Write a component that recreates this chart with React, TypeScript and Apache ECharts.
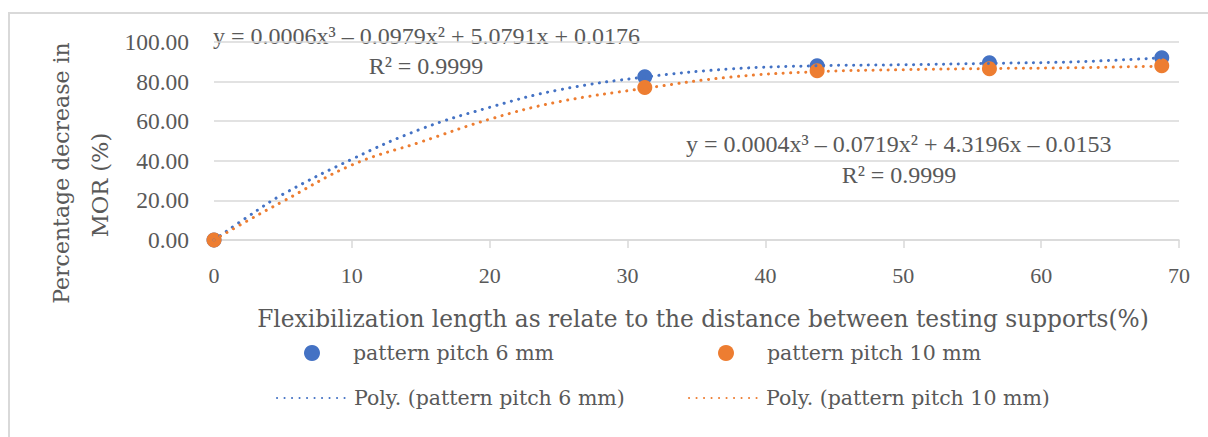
import React, { useEffect, useRef } from "react";
import * as echarts from "echarts";

const SERIF = "'Liberation Serif', serif";
const WIDE = "'DejaVu Serif', serif";
const TEXT = "#595959";
const BLUE = "#4472C4";
const ORANGE = "#ED7D31";

const xTicks = [0, 10, 20, 30, 40, 50, 60, 70];
const pitch6: [number, number][] = [[0, 0], [31.25, 82.5], [43.75, 88], [56.25, 89.5], [68.75, 92]];
const pitch10: [number, number][] = [[0, 0], [31.25, 77], [43.75, 85.5], [56.25, 86.5], [68.75, 88]];
// trendline points
const trendX = [0, 2.5, 5, 10, 15, 20, 25, 31.25, 37.5, 43.75, 50, 56.25, 62.5, 68.75];
const trend6 = [0, 12, 23.1, 40.8, 56, 67, 75.8, 82.3, 86.4, 88, 88.5, 89.2, 90, 92];
const trend10 = [0, 10, 19.5, 37.9, 49.5, 61, 69.8, 76.6, 82.3, 85, 86, 86.6, 87, 87.8];

const eq6 = "y = 0.0006x³ – 0.0979x² + 5.0791x + 0.0176";
const eq10 = "y = 0.0004x³ – 0.0719x² + 4.3196x – 0.0153";
const r2 = "R² = 0.9999";
const xTitle = "Flexibilization length as relate to the distance between testing supports(%)";
const yTitle1 = "Percentage decrease in";
const yTitle2 = "MOR (%)";

export default function App() {
  const ref = useRef<HTMLDivElement>(null);
  useEffect(() => {
    const chart = echarts.init(ref.current!, null, { renderer: "svg" });
    const dotted = (c: string) => ({ color: c, width: 3, type: [0.1, 7.4] as any, cap: "round" as const });
    const txt = { fontFamily: WIDE, fontSize: 20.5, color: TEXT, lineHeight: 24 };
    const legendBase = {
      orient: "horizontal" as const,
      padding: 0,
      selectedMode: false,
    };
    const dotLegend = { ...legendBase, itemWidth: 16, itemHeight: 16, top: 341, textStyle: { ...txt, padding: [0, 0, 0, 28] } };
    const lineLegend = { ...legendBase, itemWidth: 72, itemHeight: 4, top: 386, itemStyle: { opacity: 0 }, textStyle: txt };
    chart.setOption({
      animation: false,
      grid: { left: 214, right: 29, top: 42, bottom: 197 },
      xAxis: {
        type: "value",
        min: xTicks[0],
        max: xTicks[xTicks.length - 1],
        interval: 10,
        axisLine: { show: true, lineStyle: { color: "#d9d9d9", width: 1.5 } },
        axisTick: { show: true, length: 8, lineStyle: { color: "#d9d9d9", width: 1.5 } },
        axisLabel: { fontFamily: SERIF, fontSize: 22, color: TEXT, margin: 24 },
        splitLine: { show: false },
      },
      yAxis: {
        type: "value",
        min: 0,
        max: 100,
        interval: 20,
        axisLine: { show: false },
        axisTick: { show: false },
        axisLabel: { fontFamily: SERIF, fontSize: 23.5, color: TEXT, margin: 25, formatter: (v: number) => v.toFixed(2) },
        splitLine: { lineStyle: { color: "#d9d9d9", width: 1.5 } },
      },
      legend: [
        { ...dotLegend, left: 304, data: [{ name: "pattern pitch 6 mm", icon: "circle" }] },
        { ...dotLegend, left: 718, data: [{ name: "pattern pitch 10 mm", icon: "circle" }] },
        { ...lineLegend, left: 276, data: ["Poly. (pattern pitch 6 mm)"] },
        { ...lineLegend, left: 688, data: ["Poly. (pattern pitch 10 mm)"] },
      ],
      series: [
        {
          name: "Poly. (pattern pitch 6 mm)",
          type: "line",
          smooth: 0.4,
          symbol: "none",
          data: trendX.map((x, i) => [x, trend6[i]]),
          lineStyle: dotted(BLUE),
          itemStyle: { color: BLUE },
          z: 3,
        },
        {
          name: "Poly. (pattern pitch 10 mm)",
          type: "line",
          smooth: 0.4,
          symbol: "none",
          data: trendX.map((x, i) => [x, trend10[i]]),
          lineStyle: dotted(ORANGE),
          itemStyle: { color: ORANGE },
          z: 3,
        },
        {
          name: "pattern pitch 6 mm",
          type: "scatter",
          symbolSize: 15,
          data: pitch6,
          itemStyle: { color: BLUE, opacity: 1 },
          z: 2,
        },
        {
          name: "pattern pitch 10 mm",
          type: "scatter",
          symbolSize: 15,
          data: pitch10,
          itemStyle: { color: ORANGE, opacity: 1 },
          z: 2,
        },
      ],
      graphic: [
        { type: "rect", shape: { x: 9, y: 13, width: 1400, height: 600 }, style: { fill: "none", stroke: "#d9d9d9", lineWidth: 2 }, silent: true },
        { type: "text", x: 213, y: 36, style: { text: eq6, font: `24px ${SERIF}`, fill: TEXT, textVerticalAlign: "middle", textAlign: "left" } },
        { type: "text", x: 426, y: 66, style: { text: r2, font: `24px ${SERIF}`, fill: TEXT, textVerticalAlign: "middle", textAlign: "center" } },
        { type: "text", x: 686, y: 144, style: { text: eq10, font: `24px ${SERIF}`, fill: TEXT, textVerticalAlign: "middle", textAlign: "left" } },
        { type: "text", x: 899, y: 175, style: { text: r2, font: `24px ${SERIF}`, fill: TEXT, textVerticalAlign: "middle", textAlign: "center" } },
        { type: "text", x: 703, y: 318, style: { text: xTitle, font: `23.3px ${WIDE}`, fill: TEXT, textVerticalAlign: "middle", textAlign: "center" } },
        { type: "text", x: 61, y: 173, rotation: Math.PI / 2, style: { text: yTitle1, font: `22px ${WIDE}`, fill: TEXT, textVerticalAlign: "middle", textAlign: "center" } },
        { type: "text", x: 100, y: 185, rotation: Math.PI / 2, style: { text: yTitle2, font: `22.5px ${WIDE}`, fill: TEXT, textVerticalAlign: "middle", textAlign: "center" } },
      ],
    });
    return () => chart.dispose();
  }, []);
  return <div ref={ref} style={{ position: "fixed", left: 0, top: 0, width: 1208, height: 437, background: "#fff" }} />;
}
